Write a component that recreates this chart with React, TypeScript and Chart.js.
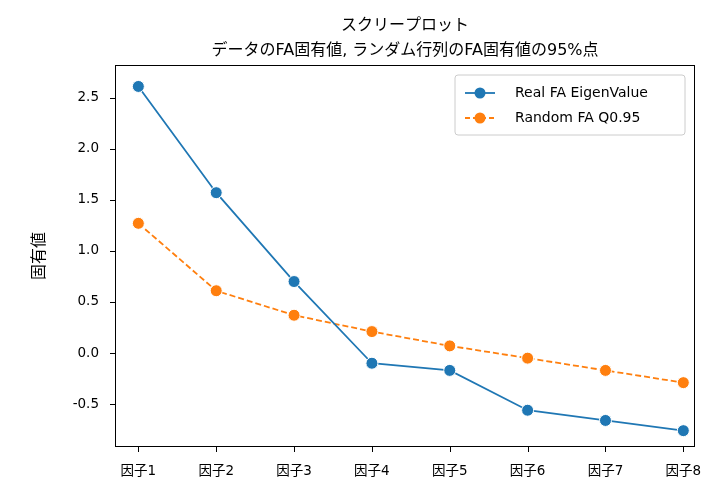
import React, { useEffect, useRef } from "react";
import { Chart, registerables } from "chart.js";
Chart.register(...registerables);

const categories = ["因子1", "因子2", "因子3", "因子4", "因子5", "因子6", "因子7", "因子8"];
const realEigen = [2.61, 1.57, 0.70, -0.10, -0.17, -0.56, -0.66, -0.76];
const randomQ95 = [1.27, 0.61, 0.37, 0.21, 0.07, -0.05, -0.17, -0.29];
const yTicks = [-0.5, 0.0, 0.5, 1.0, 1.5, 2.0, 2.5];
const FONT = "'DejaVu Sans', 'Noto Sans CJK JP', sans-serif";
const BLUE = "#1f77b4";
const ORANGE = "#ff7f0e";

const overlay = {
  id: "overlay",
  afterDraw(chart: any) {
    const ctx = chart.ctx;
    const a = chart.chartArea;
    ctx.save();
    ctx.fillStyle = "#000";
    ctx.textAlign = "center";
    ctx.textBaseline = "alphabetic";
    ctx.font = `16px ${FONT}`;
    const cx = (a.left + a.right) / 2;
    ctx.fillText("スクリープロット", cx, 30);
    ctx.fillText("データのFA固有値, ランダム行列のFA固有値の95%点", cx, 55);
    ctx.save();
    ctx.translate(40, (a.top + a.bottom) / 2);
    ctx.rotate(-Math.PI / 2);
    ctx.textBaseline = "middle";
    ctx.fillText("固有値", 0, 0);
    ctx.restore();
    ctx.strokeStyle = "#000";
    ctx.lineWidth = 1;
    ctx.strokeRect(a.left + 0.5, a.top + 0.5, a.right - a.left - 1, a.bottom - a.top - 1);
    // tick marks
    const xs = chart.scales.x, ys = chart.scales.y;
    ctx.beginPath();
    categories.forEach((_, i) => {
      const px = Math.round(xs.getPixelForValue(i)) + 0.5;
      ctx.moveTo(px, a.bottom);
      ctx.lineTo(px, a.bottom + 5);
    });
    yTicks.forEach((v) => {
      const py = Math.round(ys.getPixelForValue(v)) + 0.5;
      ctx.moveTo(a.left, py);
      ctx.lineTo(a.left - 5, py);
    });
    ctx.stroke();
    // legend
    const lx = 455, ly = 75, lw = 230, lh = 60;
    ctx.fillStyle = "rgba(255,255,255,0.8)";
    ctx.strokeStyle = "#cccccc";
    ctx.beginPath();
    (ctx as any).roundRect(lx, ly, lw, lh, 3);
    ctx.fill();
    ctx.stroke();
    const items = [
      { t: "Real FA EigenValue", c: BLUE, d: [] as number[] },
      { t: "Random FA Q0.95", c: ORANGE, d: [5, 3] },
    ];
    items.forEach((it, i) => {
      const y = ly + 18 + i * 25;
      ctx.strokeStyle = it.c;
      ctx.lineWidth = 1.8;
      ctx.setLineDash(it.d);
      ctx.beginPath();
      ctx.moveTo(lx + 10, y);
      ctx.lineTo(lx + 40, y);
      ctx.stroke();
      ctx.setLineDash([]);
      ctx.fillStyle = it.c;
      ctx.beginPath();
      ctx.arc(lx + 25, y, 5.5, 0, Math.PI * 2);
      ctx.fill();
      ctx.fillStyle = "#000";
      ctx.textAlign = "left";
      ctx.textBaseline = "middle";
      ctx.font = `14px ${FONT}`;
      ctx.fillText(it.t, lx + 60, y);
    });
    ctx.restore();
  },
};

export default function App() {
  const ref = useRef<HTMLCanvasElement>(null);
  useEffect(() => {
    const mk = (vals: number[]) => vals.map((v, i) => ({ x: i, y: v }));
    const chart = new Chart(ref.current!, {
      type: "line",
      data: {
        datasets: [
          {
            data: mk(realEigen), borderColor: BLUE, backgroundColor: BLUE,
            pointBackgroundColor: BLUE, pointBorderColor: "#fff", pointBorderWidth: 1,
            pointRadius: 6, borderWidth: 1.8, tension: 0,
          },
          {
            data: mk(randomQ95), borderColor: ORANGE, backgroundColor: ORANGE,
            pointBackgroundColor: ORANGE, pointBorderColor: "#fff", pointBorderWidth: 1,
            pointRadius: 6, borderWidth: 1.8, borderDash: [6, 3], tension: 0,
          },
        ],
      },
      options: {
        animation: false,
        responsive: false,
        layout: { padding: { top: 65, right: 22, left: 0, bottom: 0 } },
        plugins: { legend: { display: false }, title: { display: false }, tooltip: { enabled: false } },
        scales: {
          x: {
            type: "linear", min: -0.3, max: 7.15,
            afterFit: (s: any) => { s.height = 42; },
            afterBuildTicks: (s: any) => { s.ticks = categories.map((_, i) => ({ value: i })); },
            grid: { display: false },
            border: { display: false },
            ticks: { color: "#000", padding: 8, font: { family: FONT, size: 13.5 }, maxRotation: 0, autoSkip: false,
              callback: (v: any) => categories[v] ?? "" },
          },
          y: {
            type: "linear", min: -0.92, max: 2.82,
            afterFit: (s: any) => { s.width = 115; },
            afterBuildTicks: (s: any) => { s.ticks = yTicks.map((v) => ({ value: v })); },
            grid: { display: false },
            border: { display: false },
            ticks: { color: "#000", padding: 8, font: { family: FONT, size: 13.5 },
              callback: (v: any) => Number(v).toFixed(1) },
          },
        },
      },
      plugins: [overlay],
    });
    return () => chart.destroy();
  }, []);
  return (
    <div style={{ position: "fixed", left: 0, top: 0, background: "#fff" }}>
      <canvas ref={ref} width={717} height={489} style={{ width: 717, height: 489 }} />
    </div>
  );
}
